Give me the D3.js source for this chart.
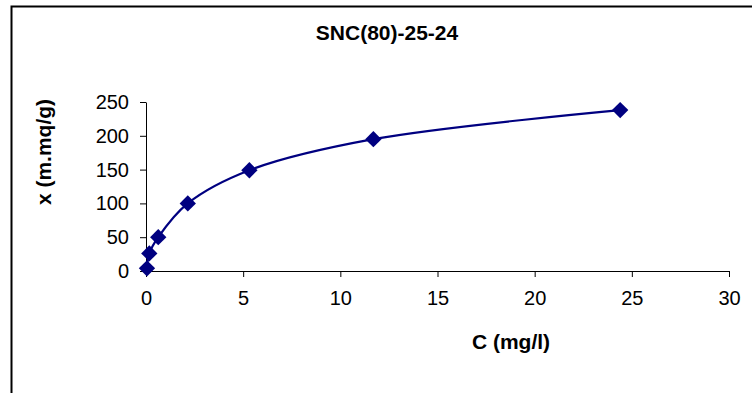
<!DOCTYPE html>
<html lang="en">
<head>
    <meta charset="UTF-8">
    <title>SNC(80)-25-24</title>
    <script src="https://d3js.org/d3.v7.min.js"></script>
    <style>
        body { margin: 0; padding: 0; background: #fff; }
        svg { display: block; font-family: "Liberation Sans", Arial, sans-serif; }
        .axis text { font-size: 20px; fill: #000; }
        .axis path, .axis line { stroke: #000; }
        .title { font-size: 21px; font-weight: bold; }
    </style>
</head>
<body>
    <div id="chart"></div>
    <script>
        // Data
        const concentrations = [0.05, 0.17, 0.63, 2.15, 5.32, 11.7, 24.4];
        const uptake = [4, 26, 50, 100, 149, 195, 238];
        const xTicks = [0, 5, 10, 15, 20, 25, 30];
        const yTicks = [0, 50, 100, 150, 200, 250];

        const width = 752, height = 393;
        const margin = { top: 102, right: 23, bottom: 122, left: 146 };

        const svg = d3.select('#chart')
            .append('svg')
            .attr('width', width)
            .attr('height', height);

        // outer chart frame (runs off the right and bottom edges)
        svg.append('rect')
            .attr('x', 11.5)
            .attr('y', 6.5)
            .attr('width', 800)
            .attr('height', 500)
            .attr('fill', 'none')
            .attr('stroke', '#000')
            .attr('stroke-width', 2);

        const x = d3.scaleLinear()
            .domain([0, 30])
            .range([margin.left, width - margin.right]);

        const y = d3.scaleLinear()
            .domain([0, 250])
            .range([height - margin.bottom, margin.top]);

        svg.append('g')
            .attr('class', 'axis')
            .attr('transform', `translate(0,${y(0)})`)
            .call(d3.axisBottom(x).tickValues(xTicks).tickSize(6).tickSizeOuter(6).tickPadding(14))
            .call(g => g.selectAll('text').attr('dy', '0.71em'));

        svg.append('g')
            .attr('class', 'axis')
            .attr('transform', `translate(${x(0)},0)`)
            .call(d3.axisLeft(y).tickValues(yTicks).tickSize(6).tickSizeOuter(0).tickPadding(11));

        const points = concentrations.map((c, i) => ({ c: c, q: uptake[i] }));

        svg.append('path')
            .datum(points)
            .attr('fill', 'none')
            .attr('stroke', '#000080')
            .attr('stroke-width', 2.2)
            .attr('d', d3.line()
                .x(d => x(d.c))
                .y(d => y(d.q))
                .curve(d3.curveCatmullRom.alpha(0.5)));

        svg.selectAll('.pt')
            .data(points)
            .join('path')
            .attr('class', 'pt')
            .attr('transform', d => `translate(${x(d.c)},${y(d.q)})`)
            .attr('d', d3.symbol().type(d3.symbolDiamond2).size(170))
            .attr('fill', '#000080');

        svg.append('text')
            .attr('class', 'title')
            .attr('x', 387)
            .attr('y', 40)
            .attr('text-anchor', 'middle')
            .text('SNC(80)-25-24');

        svg.append('text')
            .attr('class', 'title')
            .attr('x', 511)
            .attr('y', 349)
            .attr('text-anchor', 'middle')
            .text('C (mg/l)');

        svg.append('text')
            .attr('class', 'title')
            .attr('transform', 'translate(51,152) rotate(-90)')
            .attr('text-anchor', 'middle')
            .text('x (m.mq/g)');
    </script>
</body>
</html>
